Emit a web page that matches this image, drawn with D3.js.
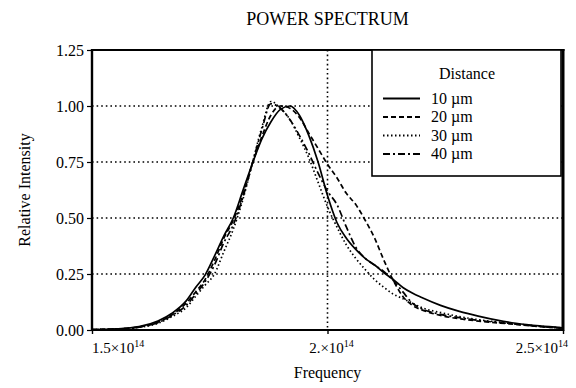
<!DOCTYPE html>
<html>
<head>
<meta charset="utf-8">
<script src="https://cdn.jsdelivr.net/npm/d3@7"></script>
<style>
  body { margin: 0; background: #fff; }
  svg { display: block; font-family: "Liberation Serif", "Times New Roman", serif; }
</style>
</head>
<body>
<div id="chart"></div>
<script>
// frequency samples in units of 1e12 Hz
const freq = [150, 155, 160, 164, 167, 170, 172, 174, 176, 178, 180, 182, 184, 186, 188, 190, 192, 194, 196, 198,
              200, 202, 204, 206, 208, 210, 212, 214, 216, 218, 220, 224, 228, 232, 236, 240, 245, 250];

const d10 = [0.002, 0.005, 0.015, 0.04, 0.075, 0.13, 0.19, 0.245, 0.33, 0.42, 0.5, 0.62, 0.74, 0.85, 0.93, 0.985, 1.0, 0.96, 0.87, 0.75,
             0.6, 0.48, 0.41, 0.36, 0.32, 0.29, 0.255, 0.225, 0.19, 0.165, 0.145, 0.11, 0.083, 0.062, 0.044, 0.03, 0.018, 0.01];
const d20 = [0.002, 0.004, 0.013, 0.035, 0.068, 0.12, 0.17, 0.225, 0.31, 0.41, 0.49, 0.6, 0.74, 0.86, 0.96, 1.0, 0.99, 0.95, 0.88, 0.81,
             0.74, 0.68, 0.61, 0.56, 0.49, 0.41, 0.31, 0.22, 0.15, 0.11, 0.09, 0.065, 0.05, 0.04, 0.032, 0.025, 0.015, 0.008];
const d30 = [0.002, 0.004, 0.012, 0.03, 0.06, 0.1, 0.15, 0.2, 0.25, 0.35, 0.45, 0.58, 0.74, 0.9, 1.02, 0.99, 0.94, 0.86, 0.77, 0.66,
             0.55, 0.46, 0.38, 0.32, 0.27, 0.225, 0.19, 0.16, 0.14, 0.12, 0.1, 0.078, 0.06, 0.046, 0.036, 0.027, 0.017, 0.009];
const d40 = [0.002, 0.004, 0.013, 0.033, 0.065, 0.11, 0.16, 0.215, 0.29, 0.39, 0.47, 0.59, 0.74, 0.89, 1.01, 0.99, 0.94, 0.87, 0.79, 0.7,
             0.62, 0.56, 0.46, 0.37, 0.32, 0.29, 0.26, 0.22, 0.17, 0.12, 0.095, 0.07, 0.055, 0.043, 0.034, 0.026, 0.016, 0.008];

const seriesNames = ['10 µm', '20 µm', '30 µm', '40 µm'];
const seriesData = [d10, d20, d30, d40];
const dashes = [null, '5,3', '1.5,2.5', '7,3,2,3'];

const yTicks = [0, 0.25, 0.5, 0.75, 1.0, 1.25];
const yGrid = [0.25, 0.5, 0.75, 1.0];
const xTicks = [1.5e14, 2e14, 2.5e14];
const xTickMant = ['1.5', '2.', '2.5'];

const serif = '"Liberation Serif", "Times New Roman", serif';
const width = 576, height = 388;
const margin = { top: 50, right: 13, bottom: 58, left: 92 };
const w = width - margin.left - margin.right;
const h = height - margin.top - margin.bottom;

const svg = d3.select('#chart').append('svg')
    .attr('width', width)
    .attr('height', height)
    .attr('font-family', serif);

const g = svg.append('g')
    .attr('transform', `translate(${margin.left},${margin.top})`);

const x = d3.scaleLinear().domain([1.5e14, 2.5e14]).range([0, w]);
const y = d3.scaleLinear().domain([0, 1.25]).range([h, 0]);

// dotted grid
g.selectAll('.hgrid')
  .data(yGrid)
  .enter().append('line')
    .attr('x1', 0).attr('x2', w)
    .attr('y1', d => y(d)).attr('y2', d => y(d))
    .attr('stroke', '#000')
    .attr('stroke-width', 1.6)
    .attr('stroke-dasharray', '1.6,3');

g.append('line')
    .attr('x1', x(2e14)).attr('x2', x(2e14))
    .attr('y1', 0).attr('y2', h)
    .attr('stroke', '#000')
    .attr('stroke-width', 1.6)
    .attr('stroke-dasharray', '1.6,3');

// curves
const line = d3.line()
    .x((d, i) => x(freq[i] * 1e12))
    .y(d => y(d))
    .curve(d3.curveMonotoneX);

seriesData.forEach((s, i) => {
  g.append('path')
    .datum(s)
    .attr('fill', 'none')
    .attr('stroke', '#000')
    .attr('stroke-width', 1.7)
    .attr('stroke-dasharray', dashes[i])
    .attr('d', line);
});

// y axis
const yAxis = g.append('g')
    .call(d3.axisLeft(y).tickValues(yTicks).tickFormat(d3.format('.2f')).tickSize(5).tickPadding(3))
    .attr('font-family', serif)
    .attr('font-size', 16);
yAxis.select('.domain').remove();
yAxis.selectAll('line').attr('stroke-width', 1.2);
yAxis.selectAll('text').attr('fill', '#000');

// x axis
const xAxis = g.append('g')
    .attr('transform', `translate(0,${h})`)
    .call(d3.axisBottom(x).tickValues(xTicks).tickFormat('').tickSize(4));
xAxis.select('.domain').remove();
xAxis.selectAll('line').attr('stroke-width', 1.4);

const xLab = g.selectAll('.xlab')
  .data(xTicks)
  .enter().append('text')
    .attr('class', 'xlab')
    .attr('x', (d, i) => x(d) + [0, 4, 5][i])
    .attr('y', h + 23)
    .attr('text-anchor', (d, i) => ['start', 'middle', 'end'][i])
    .attr('font-size', 15);
xLab.append('tspan').text((d, i) => xTickMant[i] + '\u00d710');
xLab.append('tspan').attr('dy', -6).attr('font-size', 10).text('14');

// frame lines
g.append('line').attr('x1', 0).attr('x2', 0).attr('y1', -1).attr('y2', h + 1)
    .attr('stroke', '#000').attr('stroke-width', 2.4);
g.append('line').attr('x1', 0).attr('x2', w).attr('y1', h).attr('y2', h)
    .attr('stroke', '#000').attr('stroke-width', 2);
g.append('line').attr('x1', 0).attr('x2', w + 1.5).attr('y1', 0).attr('y2', 0)
    .attr('stroke', '#000').attr('stroke-width', 2.2);
g.append('line').attr('x1', w).attr('x2', w).attr('y1', -1).attr('y2', h + 1)
    .attr('stroke', '#000').attr('stroke-width', 3);

// legend
const lg = g.append('g').attr('transform', `translate(${372 - margin.left},0)`);
lg.append('rect')
    .attr('x', 0).attr('y', 0)
    .attr('width', 189).attr('height', 126)
    .attr('fill', '#fff')
    .attr('stroke', '#000')
    .attr('stroke-width', 1.6);
lg.append('text')
    .attr('x', 95).attr('y', 29)
    .attr('text-anchor', 'middle')
    .attr('font-size', 16)
    .text('Distance');
seriesNames.forEach((name, i) => {
  const yy = 48.5 + i * 18.5;
  lg.append('line')
    .attr('x1', 11).attr('x2', 48)
    .attr('y1', yy).attr('y2', yy)
    .attr('stroke', '#000')
    .attr('stroke-width', 1.8)
    .attr('stroke-dasharray', dashes[i]);
  lg.append('text')
    .attr('x', 59).attr('y', yy + 5)
    .attr('font-size', 16)
    .text(name);
});

// titles
svg.append('text')
    .attr('x', margin.left + w / 2)
    .attr('y', 25)
    .attr('text-anchor', 'middle')
    .attr('font-size', 18)
    .text('POWER SPECTRUM');

svg.append('text')
    .attr('x', margin.left + w / 2)
    .attr('y', 378)
    .attr('text-anchor', 'middle')
    .attr('font-size', 16)
    .text('Frequency');

svg.append('text')
    .attr('transform', `translate(30,${margin.top + h / 2}) rotate(-90)`)
    .attr('text-anchor', 'middle')
    .attr('font-size', 16)
    .text('Relative Intensity');
</script>
</body>
</html>
